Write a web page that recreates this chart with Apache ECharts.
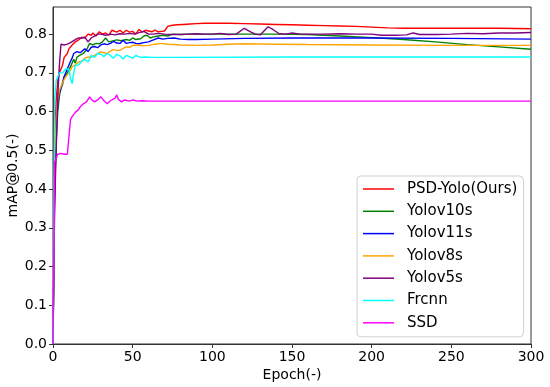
<!DOCTYPE html>
<html>
<head>
<meta charset="utf-8">
<script src="https://cdn.jsdelivr.net/npm/echarts@6/dist/echarts.min.js"></script>
<style>
html,body{margin:0;padding:0;background:#fff;}
#chart{width:550px;height:387px;}
</style>
</head>
<body>
<div id="chart"></div>
<script>
const seriesNames = ['PSD-Yolo(Ours)', 'Yolov10s', 'Yolov11s', 'Yolov8s', 'Yolov5s', 'Frcnn', 'SSD'];
const xTicks = [0, 50, 100, 150, 200, 250, 300];
const yTicks = [0.0, 0.1, 0.2, 0.3, 0.4, 0.5, 0.6, 0.7, 0.8];

const psdYolo = [[0,0],[1,0.52],[2,0.63],[3,0.68],[4,0.70],[5,0.71],[6,0.72],[7,0.74],[8,0.745],[9,0.75],[10,0.762],[11,0.765],[12,0.772],[13,0.77],[14,0.78],[16,0.785],[18,0.792],[20,0.79],[22,0.80],[24,0.797],[25,0.803],[27,0.795],[29,0.806],[31,0.80],[33,0.803],[35,0.797],[37,0.81],[38,0.813],[40,0.805],[42,0.81],[44,0.803],[46,0.81],[48,0.805],[50,0.807],[52,0.80],[54,0.812],[56,0.805],[58,0.81],[60,0.808],[62,0.806],[64,0.81],[66,0.806],[68,0.807],[70,0.808],[72,0.82],[75,0.823],[78,0.824],[82,0.825],[86,0.826],[90,0.827],[95,0.828],[100,0.828],[110,0.828],[120,0.827],[130,0.826],[140,0.825],[150,0.824],[160,0.823],[170,0.822],[180,0.821],[190,0.82],[200,0.818],[210,0.816],[220,0.815],[240,0.815],[260,0.815],[280,0.815],[300,0.814]];
const yolov10s = [[0,0],[1,0.40],[2,0.52],[3,0.60],[4,0.64],[5,0.66],[6,0.67],[7,0.69],[8,0.685],[9,0.70],[10,0.705],[11,0.716],[12,0.72],[13,0.735],[14,0.725],[15,0.74],[17,0.746],[19,0.75],[21,0.759],[23,0.776],[25,0.772],[27,0.776],[29,0.775],[31,0.78],[33,0.79],[35,0.78],[37,0.782],[40,0.785],[43,0.783],[46,0.786],[48,0.784],[50,0.79],[52,0.786],[55,0.788],[57,0.795],[59,0.797],[61,0.79],[63,0.793],[66,0.795],[69,0.797],[72,0.795],[75,0.80],[80,0.799],[85,0.80],[90,0.80],[100,0.80],[120,0.80],[140,0.80],[160,0.799],[180,0.795],[200,0.791],[220,0.786],[240,0.780],[260,0.773],[280,0.767],[300,0.761]];
const yolov11s = [[0,0],[1,0.38],[2,0.55],[3,0.62],[4,0.65],[5,0.66],[6,0.675],[7,0.69],[8,0.70],[9,0.71],[10,0.72],[11,0.73],[12,0.738],[13,0.75],[14,0.745],[15,0.755],[16,0.76],[17,0.752],[18,0.748],[20,0.762],[22,0.755],[24,0.766],[26,0.768],[28,0.765],[30,0.772],[32,0.775],[34,0.773],[36,0.776],[38,0.781],[40,0.777],[42,0.776],[44,0.784],[46,0.776],[48,0.778],[50,0.779],[52,0.776],[54,0.775],[57,0.778],[60,0.78],[63,0.785],[66,0.79],[69,0.787],[72,0.789],[76,0.79],[80,0.787],[85,0.786],[90,0.786],[100,0.787],[120,0.789],[150,0.79],[200,0.79],[250,0.789],[300,0.787]];
const yolov8s = [[0,0],[1,0.45],[2,0.58],[3,0.63],[4,0.655],[5,0.665],[6,0.675],[7,0.68],[8,0.69],[9,0.694],[10,0.70],[11,0.705],[12,0.716],[14,0.72],[16,0.728],[18,0.73],[20,0.738],[22,0.741],[24,0.74],[26,0.745],[28,0.75],[30,0.754],[32,0.752],[34,0.75],[36,0.756],[38,0.76],[40,0.758],[42,0.758],[44,0.763],[46,0.767],[48,0.766],[50,0.771],[53,0.772],[56,0.77],[60,0.771],[64,0.774],[68,0.776],[72,0.774],[76,0.773],[80,0.772],[90,0.771],[100,0.772],[110,0.774],[120,0.775],[140,0.774],[160,0.773],[200,0.772],[250,0.771],[300,0.771]];
const yolov5s = [[0,0],[1,0.35],[2,0.50],[3,0.64],[4,0.72],[5,0.774],[6,0.775],[7,0.772],[8,0.771],[9,0.774],[10,0.776],[11,0.778],[12,0.78],[14,0.786],[16,0.79],[18,0.79],[20,0.792],[22,0.78],[24,0.79],[26,0.795],[28,0.80],[30,0.80],[33,0.797],[36,0.80],[39,0.798],[42,0.801],[45,0.80],[48,0.802],[51,0.80],[54,0.804],[57,0.807],[60,0.80],[63,0.80],[66,0.802],[70,0.80],[75,0.799],[80,0.799],[85,0.80],[90,0.801],[95,0.80],[100,0.80],[105,0.802],[110,0.799],[115,0.80],[120,0.815],[124,0.806],[127,0.80],[130,0.798],[135,0.819],[138,0.812],[142,0.801],[146,0.80],[150,0.803],[155,0.80],[160,0.80],[170,0.80],[180,0.801],[190,0.80],[200,0.80],[206,0.797],[215,0.797],[222,0.798],[226,0.803],[230,0.799],[240,0.799],[250,0.80],[260,0.802],[270,0.801],[280,0.803],[290,0.803],[300,0.804]];
const frcnn = [[0,0],[1,0.63],[2,0.68],[3,0.69],[4,0.70],[5,0.703],[6,0.70],[7,0.705],[8,0.71],[9,0.705],[10,0.71],[11,0.685],[12,0.672],[13,0.70],[14,0.72],[15,0.725],[16,0.72],[18,0.73],[20,0.735],[22,0.728],[24,0.745],[26,0.74],[28,0.75],[30,0.748],[32,0.742],[34,0.75],[36,0.745],[38,0.738],[40,0.748],[42,0.744],[44,0.736],[46,0.745],[48,0.742],[50,0.738],[52,0.745],[55,0.74],[58,0.741],[62,0.74],[80,0.74],[150,0.741],[200,0.741],[300,0.741]];
const ssd = [[0,0],[1,0.47],[2,0.48],[3,0.49],[4,0.488],[5,0.492],[6,0.49],[7,0.49],[8,0.492],[9,0.49],[10,0.495],[11,0.58],[12,0.587],[13,0.59],[14,0.598],[15,0.595],[16,0.605],[17,0.612],[18,0.608],[19,0.62],[20,0.615],[21,0.625],[22,0.63],[23,0.638],[24,0.632],[25,0.635],[26,0.625],[27,0.62],[28,0.63],[30,0.638],[32,0.628],[34,0.62],[36,0.628],[37,0.63],[39,0.635],[40,0.643],[41,0.632],[43,0.625],[45,0.63],[46,0.632],[48,0.627],[50,0.63],[53,0.627],[56,0.628],[60,0.627],[100,0.627],[200,0.627],[300,0.627]];

const seriesData = [psdYolo, yolov10s, yolov11s, yolov8s, yolov5s, frcnn, ssd];
const colors = ['#ff0000', '#008000', '#0000ff', '#ffa500', '#800080', '#00ffff', '#ff00ff'];

const FONT = 'DejaVu Sans';
const chart = echarts.init(document.getElementById('chart'), null, {renderer: 'canvas'});
chart.setOption({
  animation: false,
  backgroundColor: '#ffffff',
  textStyle: {fontFamily: FONT},
  grid: {left: 53, right: 19, top: 7, bottom: 43, show: true, borderColor: '#333', borderWidth: 1,
    containLabel: false, outerBoundsMode: 'none'},
  legend: {
    orient: 'vertical',
    left: 357, top: 176,
    padding: [5, 6, 6, 6],
    itemGap: 6.3,
    icon: 'rect',
    itemWidth: 31, itemHeight: 1.5,
    backgroundColor: 'rgba(255,255,255,0.85)',
    borderColor: '#d0d0d0', borderWidth: 1, borderRadius: 4,
    data: seriesNames,
    textStyle: {fontFamily: FONT, fontSize: 15, color: '#000', lineHeight: 16, padding: [0, 0, 0, 8]}
  },
  xAxis: {
    type: 'value', min: 0, max: 300, interval: 50,
    name: 'Epoch(-)', nameLocation: 'middle', nameGap: 24, nameMoveOverlap: false,
    nameTextStyle: {fontFamily: FONT, fontSize: 14, color: '#000'},
    axisLine: {show: true, lineStyle: {color: '#333', width: 1}},
    axisTick: {show: true, length: 4, lineStyle: {color: '#333'}},
    axisLabel: {fontFamily: FONT, fontSize: 14, color: '#000', margin: 6,
      customValues: xTicks, formatter: v => String(v)},
    splitLine: {show: false}
  },
  yAxis: {
    type: 'value', min: 0, max: 0.87,
    name: 'mAP@0.5(-)', nameLocation: 'middle', nameGap: 33, nameMoveOverlap: false,
    nameTextStyle: {fontFamily: FONT, fontSize: 14, color: '#000'},
    axisLine: {show: true, lineStyle: {color: '#333', width: 1}},
    axisTick: {show: true, length: 4, lineStyle: {color: '#333'}, customValues: yTicks},
    axisLabel: {fontFamily: FONT, fontSize: 14, color: '#000', margin: 6,
      customValues: yTicks, formatter: v => v.toFixed(1)},
    splitLine: {show: false}
  },
  series: seriesNames.map((name, i) => ({
    name: name,
    type: 'line',
    data: seriesData[i],
    symbol: 'none',
    showSymbol: false,
    color: colors[i],
    lineStyle: {color: colors[i], width: 1.4},
    z: 2 + i
  }))
});
</script>
</body>
</html>
